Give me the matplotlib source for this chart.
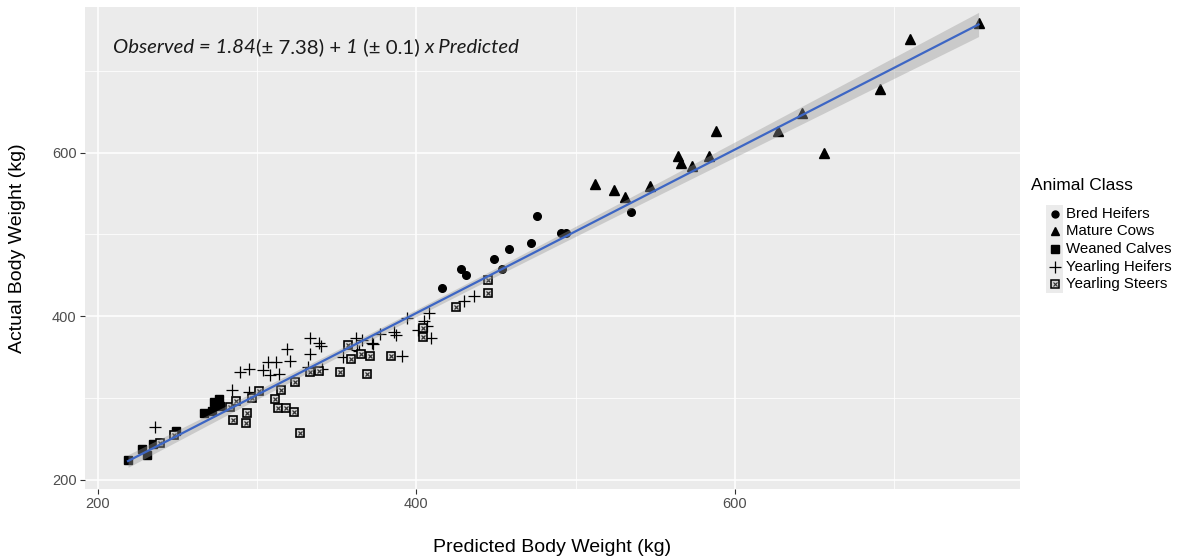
import numpy as np
import matplotlib
matplotlib.use("Agg")
import matplotlib.pyplot as plt
from matplotlib.lines import Line2D
from matplotlib.patches import Rectangle
from matplotlib.offsetbox import TextArea, HPacker, AnchoredOffsetbox

# ---------------- data ----------------
bred_x = [416, 428, 431, 449, 454, 458, 472, 476, 491, 494, 535]
bred_y = [435, 458, 450, 470, 458, 482, 490, 523, 502, 502, 527]

cows_x = [512, 524, 531, 547, 564, 566, 573, 584, 588, 627, 642, 656, 691, 710, 753]
cows_y = [562, 554, 546, 559, 596, 587, 584, 596, 627, 627, 648, 600, 678, 739, 758]

calves_x = [219, 228, 231, 235, 249, 267, 272, 273, 276, 275, 277]
calves_y = [224, 238, 231, 244, 260, 282, 284, 295, 299, 292, 290]

heifers_x = [236, 284, 295, 289, 295, 304, 307, 312, 308, 314, 319, 321, 333, 333,
             339, 340, 332, 341, 354, 362, 366, 363, 364, 372, 373, 377, 386, 387,
             391, 394, 401, 405, 407, 409, 408, 430, 436]
heifers_y = [265, 310, 308, 332, 336, 334, 344, 344, 328, 329, 360, 346, 373, 354,
             367, 364, 338, 336, 350, 373, 371, 359, 358, 367, 366, 379, 381, 377,
             351, 398, 383, 394, 388, 373, 404, 419, 425]

steers_x = [239, 248, 283, 285, 287, 293, 294, 297, 301, 311, 315, 313, 318, 323,
            327, 324, 333, 339, 352, 357, 359, 365, 371, 369, 384, 404, 404, 425,
            445, 445]
steers_y = [245, 255, 289, 273, 296, 270, 282, 300, 309, 299, 310, 288, 288, 283,
            257, 320, 332, 333, 332, 365, 348, 354, 351, 329, 352, 386, 375, 411,
            444, 429]

class_names = ["Bred Heifers", "Mature Cows", "Weaned Calves", "Yearling Heifers", "Yearling Steers"]
x_ticks = [200, 400, 600]
y_ticks = [200, 400, 600]
minor_ticks = [300, 500, 700]
x_title = "Predicted Body Weight (kg)"
y_title = "Actual Body Weight (kg)"
legend_title = "Animal Class"

# ---------------- figure ----------------
W, H, DPI = 1191, 559, 100
plt.rcParams['font.family'] = ['Liberation Sans', 'DejaVu Sans']
fig = plt.figure(figsize=(W / DPI, H / DPI), dpi=DPI)
fig.patch.set_facecolor('white')

def fx(px):
    return px / W

def fy(py):
    return 1 - py / H

ax = fig.add_axes([fx(85), fy(489), fx(1020) - fx(85), fy(7) - fy(489)])
ax.set_facecolor('#EBEBEB')
ax.set_xlim(192, 779)
ax.set_ylim(189, 778)
ax.set_xticks(x_ticks)
ax.set_yticks(y_ticks)
ax.set_xticks(minor_ticks, minor=True)
ax.set_yticks(minor_ticks, minor=True)
ax.grid(which='major', color='white', lw=1.1)
ax.grid(which='minor', color='white', lw=0.55)
ax.set_axisbelow(True)
for s in ax.spines.values():
    s.set_visible(False)
ax.tick_params(which='major', length=3.5, width=0.8, color='#333333',
               labelsize=10.5, labelcolor='#4D4D4D', pad=2.5)
ax.tick_params(which='minor', length=0)

# points
ax.plot(bred_x, bred_y, 'o', ms=5.5, color='black', zorder=2, ls='none')
ax.plot(cows_x, cows_y, '^', ms=6.5, color='black', zorder=2, ls='none')
ax.plot(calves_x, calves_y, 's', ms=5.8, color='black', zorder=2, ls='none')
ax.plot(heifers_x, heifers_y, '+', ms=9, mew=0.9, color='black', zorder=2, ls='none')
ax.plot(steers_x, steers_y, 's', ms=6.3, mfc='#D4D4D4', mec='black', mew=1.2, zorder=2, ls='none')
ax.plot(steers_x, steers_y, 'x', ms=2.8, mew=0.9, color='#333333', zorder=2, ls='none')

# linear fit with 95% confidence band
xa = np.array(bred_x + cows_x + calves_x + heifers_x + steers_x, float)
ya = np.array(bred_y + cows_y + calves_y + heifers_y + steers_y, float)
slope, icpt = np.polyfit(xa, ya, 1)
n = len(xa)
resid = ya - (icpt + slope * xa)
s_err = np.sqrt(np.sum(resid ** 2) / (n - 2))
sxx = np.sum((xa - xa.mean()) ** 2)
xs = np.linspace(xa.min(), xa.max(), 100)
yh = icpt + slope * xs
se = s_err * np.sqrt(1 / n + (xs - xa.mean()) ** 2 / sxx)
t = 1.984
ax.fill_between(xs, yh - t * se, yh + t * se, color='#999999', alpha=0.4, lw=0, zorder=3)
ax.plot(xs, yh, color='#3D66C4', lw=1.6, zorder=4)

# equation annotation
fam = 'Lato'
fs = 14.7
parts = [("Observed = 1.84", 'italic'), ("(± 7.38) + ", 'normal'), ("1", 'italic'),
         (" (± 0.1) ", 'normal'), ("x Predicted", 'italic')]
areas = [TextArea(t_, textprops=dict(fontfamily=fam, fontstyle=st, fontsize=fs, color='#1a1a1a'))
         for t_, st in parts]
pack = HPacker(children=areas, pad=0, sep=0, align='baseline')
anch = AnchoredOffsetbox(loc='center left', child=pack, pad=0, borderpad=0, frameon=False,
                         bbox_to_anchor=(fx(113), fy(47)), bbox_transform=fig.transFigure)
fig.add_artist(anch)

# axis titles
fig.text(fx(552.5), fy(548), x_title, ha='center', va='center', fontsize=14, color='black')
fig.text(fx(18), fy(248), y_title, ha='center', va='center', rotation=90, fontsize=14, color='black')

# legend (manual)
fig.text(fx(1031), fy(186), legend_title, ha='left', va='center', fontsize=12.5, color='black')
key_y0, key_dy = 213.5, 17.7
fig.add_artist(Rectangle((fx(1046), fy(key_y0 + 4 * key_dy + 9)), fx(1063) - fx(1046),
                         fy(key_y0 - 9) - fy(key_y0 + 4 * key_dy + 9),
                         transform=fig.transFigure, facecolor='#EBEBEB', edgecolor='none'))
key_styles = [dict(marker='o', ms=5.0, color='black'),
              dict(marker='^', ms=6.0, color='black'),
              dict(marker='s', ms=5.3, color='black'),
              dict(marker='+', ms=9, mew=0.9, color='black'),
              dict(marker='s', ms=6.0, mfc='#D4D4D4', mec='black', mew=1.1)]
for i, (name, st) in enumerate(zip(class_names, key_styles)):
    yy = key_y0 + i * key_dy
    fig.add_artist(Line2D([fx(1054.5)], [fy(yy)], transform=fig.transFigure, ls='none', **st))
    if i == 4:
        fig.add_artist(Line2D([fx(1054.5)], [fy(yy)], transform=fig.transFigure, ls='none',
                              marker='x', ms=2.6, mew=0.8, color='#333333'))
    fig.text(fx(1066), fy(yy), name, ha='left', va='center', fontsize=10.8, color='black')

fig.savefig('out.png', dpi=DPI)
